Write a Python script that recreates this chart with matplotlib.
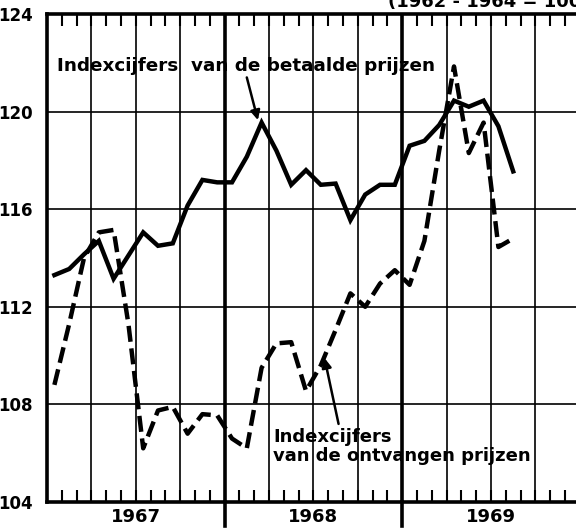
import matplotlib
matplotlib.use("Agg")
import matplotlib.pyplot as plt
import matplotlib.transforms as mtransforms

# monthly index figures, Jan 1967 .. Aug 1969 (1962-1964 = 100)
betaalde = [113.3, 113.55, 114.15, 114.7, 113.15, 114.1, 115.05, 114.5, 114.6, 116.15, 117.2, 117.1,
            117.1, 118.15, 119.55, 118.4, 117.0, 117.6, 117.0, 117.05, 115.55, 116.6, 117.0, 117.0,
            118.6, 118.8, 119.45, 120.45, 120.2, 120.45, 119.4, 117.55]
ontvangen = [108.8, 111.3, 114.0, 115.05, 115.15, 111.3, 106.2, 107.75, 107.9, 106.8, 107.6, 107.55,
             106.6, 106.2, 109.5, 110.5, 110.55, 108.55, 109.6, 111.05, 112.55, 112.0, 112.95, 113.5,
             112.9, 114.7, 118.4, 121.85, 118.3, 119.55, 114.45, 114.8]
years = ["1967", "1968", "1969"]
yticks = [104, 108, 112, 116, 120, 124]

months = [m + 0.5 for m in range(len(betaalde))]

fig = plt.figure(figsize=(5.76, 5.32), dpi=100)
ax = fig.add_axes([0.0816, 0.0564, 0.925, 0.9173])
ax.set_xlim(0, 36)
ax.set_ylim(104, 124)

# grid: quarters thin, year boundaries thick
for q in range(3, 36, 3):
    lw = 2.6 if q % 12 == 0 else 1.2
    ax.axvline(q, color="black", lw=lw, zorder=1)
for v in yticks[1:-1]:
    ax.axhline(v, color="black", lw=1.2, zorder=1)

# year boundary marks below the axis
trans = mtransforms.blended_transform_factory(ax.transData, ax.transAxes)
for yb in (12, 24):
    ax.plot([yb, yb], [0, -0.05], transform=trans, color="black", lw=2.6, clip_on=False)

ax.plot(months, betaalde, color="black", lw=3.2, solid_joinstyle="miter", zorder=3)
ax.plot(months, ontvangen, color="black", lw=3.2, linestyle=(0, (3.6, 1.5)), zorder=3)

for side in ("left", "bottom", "top"):
    ax.spines[side].set_linewidth(2.6)
ax.spines["right"].set_visible(False)

ax.set_xticks(range(0, 37))
ax.set_xticklabels([])
ax.tick_params(axis="x", which="both", direction="in", length=8.5, width=1.5,
               top=True, bottom=True)
ax.set_yticks(yticks)
ax.set_yticklabels([str(v) for v in yticks], fontsize=12, fontweight="bold")
ax.tick_params(axis="y", length=0, pad=10)

for i, yr in enumerate(years):
    ax.text(6 + 12 * i, -0.012, yr, transform=trans, ha="center", va="top",
            fontsize=13, fontweight="bold")

ax.text(0.7, 121.85, "Indexcijfers  van de betaalde prijzen", fontsize=13.2,
        fontweight="bold", va="center", ha="left")
ax.annotate("", xy=(14.25, 119.65), xytext=(13.5, 121.4),
            arrowprops=dict(arrowstyle="-|>", color="black", lw=1.8, mutation_scale=14,
                            shrinkA=0, shrinkB=0))
ax.annotate("", xy=(18.75, 109.9), xytext=(19.7, 107.2),
            arrowprops=dict(arrowstyle="-|>", color="black", lw=1.8, mutation_scale=14,
                            shrinkA=0, shrinkB=0))
ax.text(15.3, 107.05, "Indexcijfers\nvan de ontvangen prijzen", fontsize=13,
        fontweight="bold", ha="left", va="top", linespacing=1.1)

fig.text(0.674, 0.986, "(1962 - 1964 = 100)", fontsize=13, fontweight="bold",
         ha="left", va="baseline")

fig.savefig("out.png", dpi=100)
